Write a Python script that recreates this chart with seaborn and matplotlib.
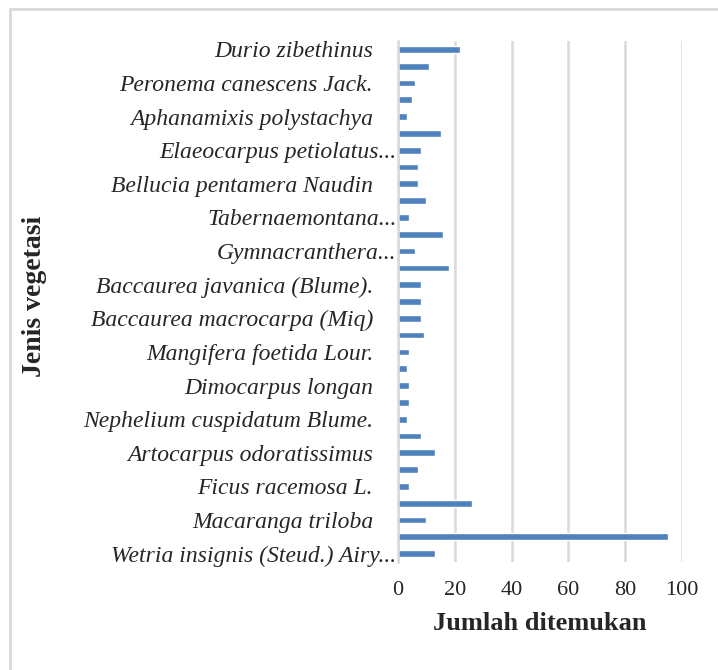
import matplotlib
matplotlib.use("Agg")
import matplotlib.pyplot as plt
from matplotlib.lines import Line2D
import seaborn as sns
import pandas as pd

# bars listed top to bottom; only every other bar carries a visible label
species = [
    "Durio zibethinus", "sp02",
    "Peronema canescens Jack.", "sp04",
    "Aphanamixis polystachya", "sp06",
    "Elaeocarpus petiolatus...", "sp08",
    "Bellucia pentamera Naudin", "sp10",
    "Tabernaemontana...", "sp12",
    "Gymnacranthera...", "sp14",
    "Baccaurea javanica (Blume).", "sp16",
    "Baccaurea macrocarpa (Miq)", "sp18",
    "Mangifera foetida Lour.", "sp20",
    "Dimocarpus longan", "sp22",
    "Nephelium cuspidatum Blume.", "sp24",
    "Artocarpus odoratissimus", "sp26",
    "Ficus racemosa L.", "sp28",
    "Macaranga triloba", "sp30",
    "Wetria insignis (Steud.) Airy...",
]
counts = [22, 11, 6, 5, 3, 15, 8, 7, 7, 10, 4, 16, 6, 18, 8, 8,
          8, 9, 4, 3, 4, 4, 3, 8, 13, 7, 4, 26, 10, 95, 13]
x_ticks = [0, 20, 40, 60, 80, 100]

df = pd.DataFrame({"Jenis": species, "Jumlah": counts})

sns.set_style("white")
plt.rcParams["font.family"] = ["Liberation Serif", "DejaVu Serif"]

fig = plt.figure(figsize=(7.18, 6.7), dpi=100)
ax = fig.add_axes([0.5543, 0.1612, 0.3956, 0.7776])

sns.barplot(data=df, x="Jumlah", y="Jenis", color="#4F81BD", width=0.4,
            saturation=1, ax=ax, orient="h")

ax.set_xlim(0, 100)
ax.set_ylim(len(species) - 0.5, -0.5)
ax.set_xticks(x_ticks)
ax.set_xticklabels([str(t) for t in x_ticks], fontsize=16)
ax.xaxis.grid(True, color="#d9d9d9", linewidth=1.8)
ax.set_axisbelow(True)
ax.tick_params(axis="x", length=0, pad=14)

# Excel-like: full names stop short of the axis, truncated ones run up to it
shown = list(range(0, len(species), 2))
labels = [species[i] if species[i].endswith("...") else species[i] + "    "
          for i in shown]
ax.set_yticks(shown)
ax.set_yticklabels(labels, fontsize=17, style="italic")
ax.set_yticks([i - 0.5 for i in range(len(species) + 1)], minor=True)
ax.tick_params(axis="y", which="major", length=0, pad=1)
ax.tick_params(axis="y", which="minor", length=3, color="#bfbfbf", width=1)

for s in ["top", "right", "bottom"]:
    ax.spines[s].set_visible(False)
ax.spines["left"].set_color("#d9d9d9")
ax.spines["left"].set_linewidth(1.8)

ax.set_xlabel("Jumlah ditemukan", fontsize=19, fontweight="bold", labelpad=8)
ax.set_ylabel("Jenis vegetasi", fontsize=20, fontweight="bold")
ax.yaxis.set_label_coords(-1.236, 0.51)

# chart area frame (only top and left edges fall inside the picture)
fig.add_artist(Line2D([10 / 718, 1], [1 - 9 / 670, 1 - 9 / 670],
                      transform=fig.transFigure, color="#d9d9d9", linewidth=2))
fig.add_artist(Line2D([10 / 718, 10 / 718], [0, 1 - 9 / 670],
                      transform=fig.transFigure, color="#d9d9d9", linewidth=2))

fig.savefig("out.png", dpi=100)
